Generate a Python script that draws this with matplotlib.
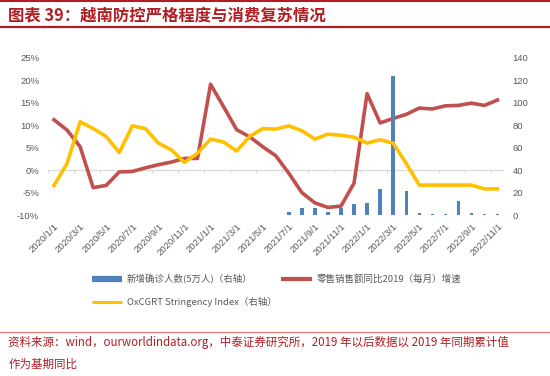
import matplotlib
matplotlib.use("Agg")
import matplotlib.pyplot as plt
import numpy as np
from matplotlib.lines import Line2D

plt.rcParams["font.family"] = ["Noto Sans CJK SC", "DejaVu Sans"]

# data
months = [f"{y}/{m}/1" for y in (2020, 2021, 2022) for m in range(1, 13)][:35]
retail_yoy = [
    11.2, 8.9, 5.2, -3.9, -3.4, -0.4, -0.3, 0.5, 1.2, 1.8, 2.6, 2.6,
    19.1, 14.1, 9.0, 7.4, 5.2, 3.2, -0.7, -5.0, -7.3, -8.3, -8.0, -2.9,
    17.0, 10.5, 11.5, 12.4, 13.8, 13.6, 14.3, 14.4, 14.9, 14.4, 15.6,
]
stringency = [
    26.4, 46, 83, 77, 70, 55.6, 79.4, 77, 64, 58, 46.8, 55,
    67.6, 65, 57, 70, 77, 76.5, 79.4, 75, 67.6, 72, 71, 69.3,
    64, 67, 64, 46, 26.7, 26.7, 26.7, 26.7, 26.7, 23.3, 23.3,
]
new_cases = [
    0.2, 0.2, 0.2, 0.2, 0.2, 0.2, 0.2, 0.2, 0.2, 0.2, 0.2, 0.2,
    0.2, 0.2, 0.2, 0.2, 0.2, 0.2, 2.4, 6.2, 6.2, 2.4, 6.2, 9.8,
    11, 23, 124, 21.7, 1.5, 0.8, 0.8, 12.5, 1.5, 0.6, 0.6,
]
left_ticks = [-10, -5, 0, 5, 10, 15, 20, 25]
right_ticks = [0, 20, 40, 60, 80, 100, 120, 140]

RED = "#C0504D"
YELLOW = "#FFC000"
BLUE = "#4F81BD"
GRAY = "#595959"
TITLE_RED = "#B01E23"

fig = plt.figure(figsize=(5.5, 3.76), dpi=100)
ax = fig.add_axes([0.0864, 0.428, 0.830, 0.4184])
ax2 = ax.twinx()

x = np.arange(len(months))

ax.plot(x, retail_yoy, color=RED, lw=2.6, solid_joinstyle="round", zorder=3)
ax2.bar(x, new_cases, width=0.26, color=BLUE, zorder=2)
ax2.plot(x, stringency, color=YELLOW, lw=2.6, solid_joinstyle="round", zorder=3)

ax.set_xlim(-0.5, len(months) - 0.5)
ax.set_ylim(-10, 25)
ax2.set_ylim(0, 140)

# category axis crosses at 0%
ax.axhline(0, color="#D9D9D9", lw=0.9, zorder=1)
ax.vlines(np.arange(-0.5, len(months) - 1, 2), -0.7, 0, color="#D9D9D9", lw=0.9, zorder=1)

for a in (ax, ax2):
    for s in a.spines.values():
        s.set_visible(False)

tick_font = dict(family=["Liberation Sans", "DejaVu Sans"], size=6.8, color=GRAY)
ax.set_yticks(left_ticks)
ax.set_yticklabels([f"{v}%" for v in left_ticks], **tick_font)
ax2.set_yticks(right_ticks)
ax2.set_yticklabels([str(v) for v in right_ticks], **tick_font)
ax.set_xticks(x[::2])
ax.set_xticklabels(months[::2], rotation=45, ha="right", rotation_mode="anchor", **tick_font)
ax.tick_params(axis="x", length=0, pad=5)
ax.tick_params(axis="y", length=0, pad=6)
ax2.tick_params(axis="y", length=0, pad=6)

handles = [
    Line2D([], [], color=BLUE, lw=4.5, solid_capstyle="butt"),
    Line2D([], [], color=YELLOW, lw=2.2, solid_capstyle="butt"),
    Line2D([], [], color=RED, lw=3, solid_capstyle="butt"),
]
labels = [
    "新增确诊人数(5万人)（右轴）",
    "OxCGRT Stringency Index（右轴）",
    "零售销售额同比2019（每月）增速",
]
leg = fig.legend(handles, labels, loc="upper left", bbox_to_anchor=(0.167, 0.272),
                 ncol=2, frameon=False, fontsize=6.8, handlelength=3.2,
                 handletextpad=0.5, columnspacing=0.5, labelspacing=1.35,
                 borderpad=0, borderaxespad=0)
for t in leg.get_texts():
    t.set_color(GRAY)

# header / footer
fig.add_artist(Line2D([0, 1], [0.998, 0.998], color=TITLE_RED, lw=1.5, transform=fig.transFigure))
fig.text(0.015, 0.958, "图表 39：越南防控严格程度与消费复苏情况", color=TITLE_RED,
         fontsize=11.8, fontweight="bold", va="center", ha="left")
fig.add_artist(Line2D([0, 1], [0.927, 0.927], color=TITLE_RED, lw=1.6, transform=fig.transFigure))
fig.add_artist(Line2D([0, 1], [0.117, 0.117], color="#E07070", lw=0.8, transform=fig.transFigure))
fig.text(0.015, 0.088, "资料来源：wind，ourworldindata.org，中泰证券研究所，2019 年以后数据以 2019 年同期累计值",
         color=TITLE_RED, fontsize=8.3, va="center", ha="left")
fig.text(0.015, 0.032, "作为基期同比", color=TITLE_RED, fontsize=8.3, va="center", ha="left")

fig.savefig("out.png", dpi=100)
